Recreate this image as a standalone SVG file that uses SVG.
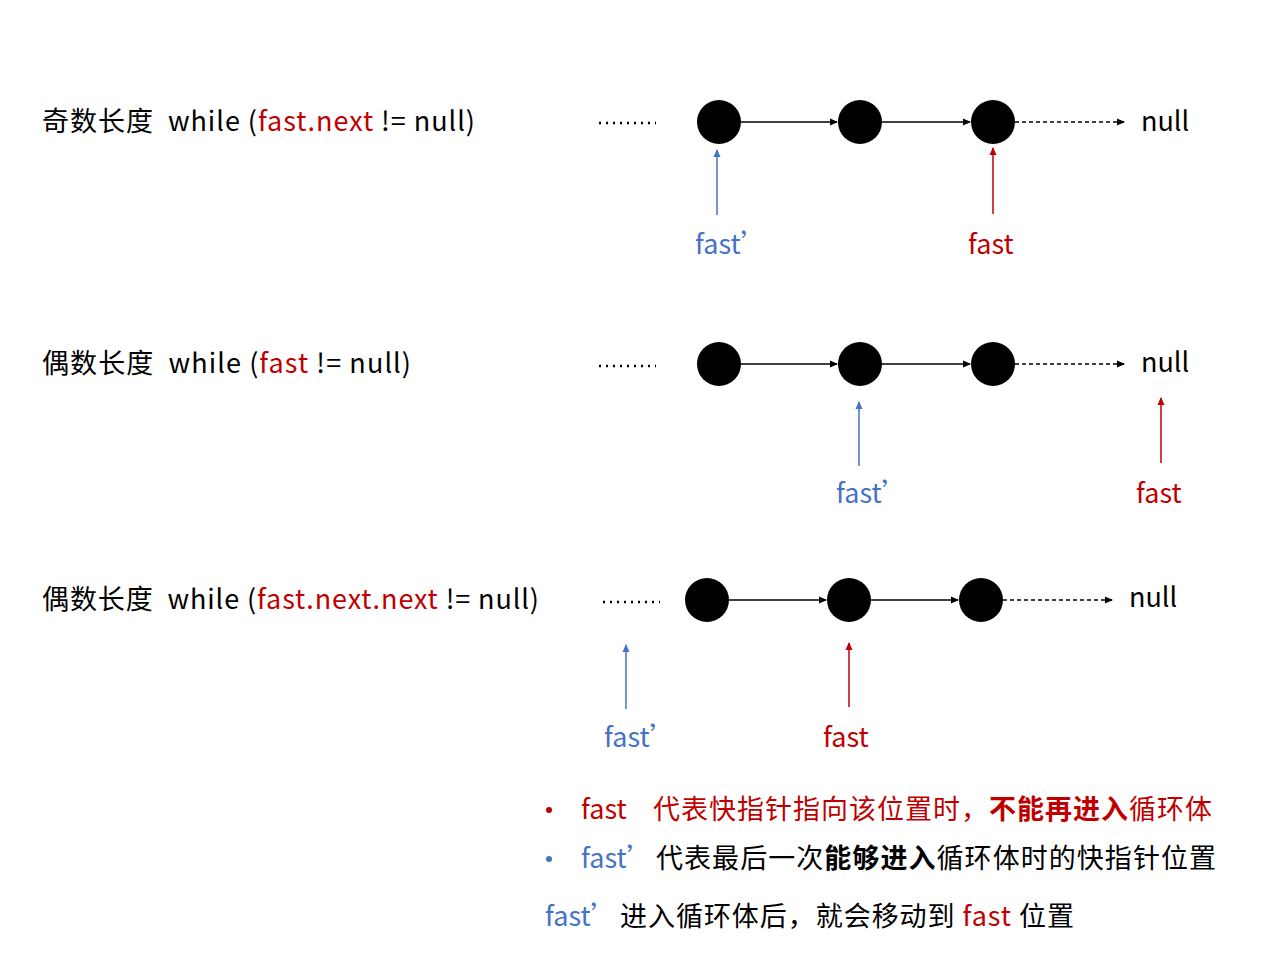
<svg xmlns="http://www.w3.org/2000/svg" width="1280" height="960" viewBox="0 0 1280 960">
<style>
text{font-family:"Noto Sans CJK SC","Noto Sans",sans-serif;font-size:27px;fill:#000}
.r{fill:#C00000}.b{fill:#4472C4}.bd{font-weight:bold}
.dots{stroke:#000;stroke-width:2.5;stroke-dasharray:2 5}
.l{stroke:#000;stroke-width:1.5;fill:none}
.d{stroke:#000;stroke-width:1.5;stroke-dasharray:4 3;fill:none}
.pb{stroke:#4472C4;stroke-width:1.5}.pr{stroke:#C00000;stroke-width:1.5}
</style>
<defs>
<marker id="ak" markerWidth="8" markerHeight="8" refX="7" refY="4" orient="auto" markerUnits="userSpaceOnUse"><path d="M0,0.5 L8,4 L0,7.5z" fill="#000"/></marker>
<marker id="ab" markerWidth="8" markerHeight="8" refX="7" refY="4" orient="auto" markerUnits="userSpaceOnUse"><path d="M0,0.5 L8,4 L0,7.5z" fill="#4472C4"/></marker>
<marker id="ar" markerWidth="8" markerHeight="8" refX="7" refY="4" orient="auto" markerUnits="userSpaceOnUse"><path d="M0,0.5 L8,4 L0,7.5z" fill="#C00000"/></marker>
</defs>
<g id="labels">
<text x="42" y="131" textLength="433" lengthAdjust="spacing" xml:space="preserve">奇数长度  while (<tspan class="r">fast.next</tspan> != null)</text>
<text x="42" y="373" textLength="369" lengthAdjust="spacing" xml:space="preserve">偶数长度  while (<tspan class="r">fast</tspan> != null)</text>
<text x="42" y="609" textLength="497" lengthAdjust="spacing" xml:space="preserve">偶数长度  while (<tspan class="r">fast.next.next</tspan> != null)</text>
<text x="1141" y="131">null</text>
<text x="1141" y="372">null</text>
<text x="1129" y="607">null</text>
<text class="b" x="695" y="254">fast’</text>
<text class="r" x="968" y="254">fast</text>
<text class="b" x="836" y="503">fast’</text>
<text class="r" x="1136" y="503">fast</text>
<text class="b" x="604" y="747">fast’</text>
<text class="r" x="823" y="747">fast</text>
</g>
<g id="nodes">
<g id="n1a"><circle cx="719" cy="122" r="22"/></g>
<g id="n1b"><circle cx="860" cy="122" r="22"/></g>
<g id="n1c"><circle cx="993" cy="122" r="22"/></g>
<g id="n2a"><circle cx="719" cy="364" r="22"/></g>
<g id="n2b"><circle cx="860" cy="364" r="22"/></g>
<g id="n2c"><circle cx="993" cy="364" r="22"/></g>
<g id="n3a"><circle cx="707" cy="600" r="22"/></g>
<g id="n3b"><circle cx="849" cy="600" r="22"/></g>
<g id="n3c"><circle cx="981" cy="600" r="22"/></g>
</g>
<g id="connectors">
<line class="dots" x1="599" y1="123" x2="656" y2="123"/>
<line class="dots" x1="599" y1="366" x2="656" y2="366"/>
<line class="dots" x1="603" y1="602" x2="660" y2="602"/>
<line class="l" x1="741" y1="122" x2="837" y2="122" marker-end="url(#ak)"/>
<line class="l" x1="882" y1="122" x2="970" y2="122" marker-end="url(#ak)"/>
<line class="d" x1="1015" y1="122" x2="1124" y2="122" marker-end="url(#ak)"/>
<line class="l" x1="741" y1="364" x2="837" y2="364" marker-end="url(#ak)"/>
<line class="l" x1="882" y1="364" x2="970" y2="364" marker-end="url(#ak)"/>
<line class="d" x1="1015" y1="364" x2="1124" y2="364" marker-end="url(#ak)"/>
<line class="l" x1="729" y1="600" x2="826" y2="600" marker-end="url(#ak)"/>
<line class="l" x1="871" y1="600" x2="958" y2="600" marker-end="url(#ak)"/>
<line class="d" x1="1003" y1="600" x2="1112" y2="600" marker-end="url(#ak)"/>
<line class="pb" x1="717" y1="215" x2="717" y2="150" marker-end="url(#ab)"/>
<line class="pr" x1="993" y1="214" x2="993" y2="148" marker-end="url(#ar)"/>
<line class="pb" x1="859" y1="466" x2="859" y2="402" marker-end="url(#ab)"/>
<line class="pr" x1="1161" y1="463" x2="1161" y2="398" marker-end="url(#ar)"/>
<line class="pb" x1="626" y1="709" x2="626" y2="645" marker-end="url(#ab)"/>
<line class="pr" x1="849" y1="707" x2="849" y2="643" marker-end="url(#ar)"/>
</g>
<g id="notes">
<circle cx="549" cy="810" r="3" fill="#C00000"/>
<text class="r" x="581" y="819">fast</text>
<text class="r" x="653" y="819" textLength="559" lengthAdjust="spacing">代表快指针指向该位置时，<tspan class="bd">不能再进入</tspan>循环体</text>
<circle cx="549" cy="859" r="3" fill="#4472C4"/>
<text class="b" x="581" y="868">fast’</text>
<text x="656" y="868" textLength="560" lengthAdjust="spacing">代表最后一次<tspan class="bd">能够进入</tspan>循环体时的快指针位置</text>
<text class="b" x="545" y="926">fast’</text>
<text x="620" y="926" textLength="454" lengthAdjust="spacing">进入循环体后，就会移动到 <tspan class="r">fast</tspan> 位置</text>
</g>
</svg>
